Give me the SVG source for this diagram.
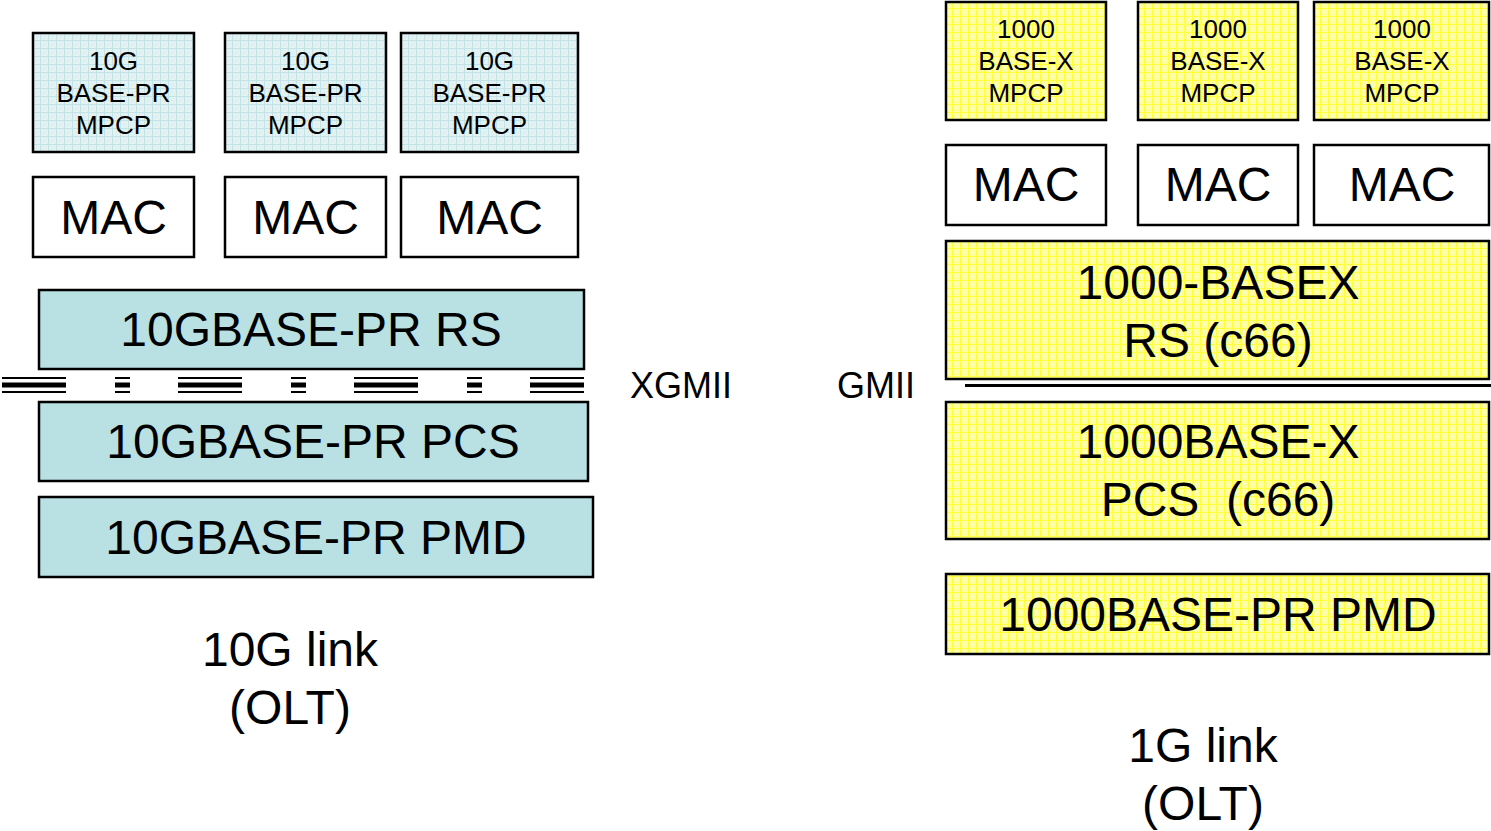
<svg xmlns="http://www.w3.org/2000/svg" width="1491" height="831" viewBox="0 0 1491 831">
<defs>
<pattern id="pt" width="8" height="8" patternUnits="userSpaceOnUse">
<rect width="8" height="8" fill="#e2f1f2"/>
<rect x="0" y="0" width="8" height="1" fill="#c3e3e6"/>
<rect x="0" y="0" width="1" height="8" fill="#c3e3e6"/>
<rect x="4" y="4" width="1" height="1" fill="#cfe8ea"/>
</pattern>
<pattern id="py" width="8" height="8" patternUnits="userSpaceOnUse">
<rect width="8" height="8" fill="#ffffa0"/>
<rect x="0" y="0" width="8" height="1" fill="#ffff40"/>
<rect x="0" y="0" width="1" height="8" fill="#ffff40"/>
<rect x="3" y="3" width="2" height="2" fill="#ffffc8"/>
</pattern>
</defs>
<style>
rect.b{stroke:#000;stroke-width:2.5}
.tm{fill:url(#pt)}
.ts{fill:#b9e0e3}
.yl{fill:url(#py)}
.w{fill:#fff}
text{font-family:"Liberation Sans",Arial,sans-serif;fill:#000;text-anchor:middle}
.s26{font-size:26px}
.s48{font-size:48px}
.s36{font-size:36px}
</style>
<g id="mpcp10-1"><rect class="b tm" x="33" y="33" width="161" height="119"/><text class="s26" x="113.5" y="70">10G</text><text class="s26" x="113.5" y="102">BASE-PR</text><text class="s26" x="113.5" y="134">MPCP</text></g>
<g id="mpcp10-2"><rect class="b tm" x="225" y="33" width="161" height="119"/><text class="s26" x="305.5" y="70">10G</text><text class="s26" x="305.5" y="102">BASE-PR</text><text class="s26" x="305.5" y="134">MPCP</text></g>
<g id="mpcp10-3"><rect class="b tm" x="401" y="33" width="177" height="119"/><text class="s26" x="489.5" y="70">10G</text><text class="s26" x="489.5" y="102">BASE-PR</text><text class="s26" x="489.5" y="134">MPCP</text></g>
<g id="mac10-1"><rect class="b w" x="33" y="177" width="161" height="80"/><text class="s48" x="113.5" y="234">MAC</text></g>
<g id="mac10-2"><rect class="b w" x="225" y="177" width="161" height="80"/><text class="s48" x="305.5" y="234">MAC</text></g>
<g id="mac10-3"><rect class="b w" x="401" y="177" width="177" height="80"/><text class="s48" x="489.5" y="234">MAC</text></g>
<g id="rs10"><rect class="b ts" x="39" y="290" width="545" height="79"/><text class="s48" x="311" y="346">10GBASE-PR RS</text></g>
<g id="pcs10"><rect class="b ts" x="39" y="402" width="549" height="79"/><text class="s48" x="313" y="458">10GBASE-PR PCS</text></g>
<g id="pmd10"><rect class="b ts" x="39" y="497" width="554" height="80"/><text class="s48" x="316" y="554">10GBASE-PR PMD</text></g>
<g id="label10"><text class="s48" x="290" y="666">10G link</text><text class="s48" x="290" y="724">(OLT)</text></g>
<g id="xgmii-label"><text class="s36" x="681" y="398">XGMII</text></g>
<g id="gmii-label"><text class="s36" x="876" y="398">GMII</text></g>
<g id="mpcp1-1"><rect class="b yl" x="946" y="2" width="160" height="118"/><text class="s26" x="1026" y="38">1000</text><text class="s26" x="1026" y="70">BASE-X</text><text class="s26" x="1026" y="102">MPCP</text></g>
<g id="mpcp1-2"><rect class="b yl" x="1138" y="2" width="160" height="118"/><text class="s26" x="1218" y="38">1000</text><text class="s26" x="1218" y="70">BASE-X</text><text class="s26" x="1218" y="102">MPCP</text></g>
<g id="mpcp1-3"><rect class="b yl" x="1314" y="2" width="175" height="118"/><text class="s26" x="1402" y="38">1000</text><text class="s26" x="1402" y="70">BASE-X</text><text class="s26" x="1402" y="102">MPCP</text></g>
<g id="mac1-1"><rect class="b w" x="946" y="145" width="160" height="80"/><text class="s48" x="1026" y="201">MAC</text></g>
<g id="mac1-2"><rect class="b w" x="1138" y="145" width="160" height="80"/><text class="s48" x="1218" y="201">MAC</text></g>
<g id="mac1-3"><rect class="b w" x="1314" y="145" width="175" height="80"/><text class="s48" x="1402" y="201">MAC</text></g>
<g id="rs1"><rect class="b yl" x="946" y="241" width="543" height="138"/><text class="s48" x="1218" y="299">1000-BASEX</text><text class="s48" x="1218" y="357">RS (c66)</text></g>
<g id="pcs1"><rect class="b yl" x="946" y="402" width="543" height="137"/><text class="s48" x="1218" y="458">1000BASE-X</text><text class="s48" x="1218" y="516" xml:space="preserve">PCS  (c66)</text></g>
<g id="pmd1"><rect class="b yl" x="946" y="574" width="543" height="80"/><text class="s48" x="1218" y="631">1000BASE-PR PMD</text></g>
<g id="label1"><text class="s48" x="1203" y="762">1G link</text><text class="s48" x="1203" y="820">(OLT)</text></g>
<g id="connectors" stroke="#000" fill="none">
<g stroke-dasharray="64 49 15 48">
<line x1="2" y1="378" x2="584" y2="378" stroke-width="2"/>
<line x1="2" y1="385" x2="584" y2="385" stroke-width="5"/>
<line x1="2" y1="392" x2="584" y2="392" stroke-width="2"/>
</g>
<line x1="965" y1="385.5" x2="1491" y2="385.5" stroke-width="3"/>
</g>
</svg>
